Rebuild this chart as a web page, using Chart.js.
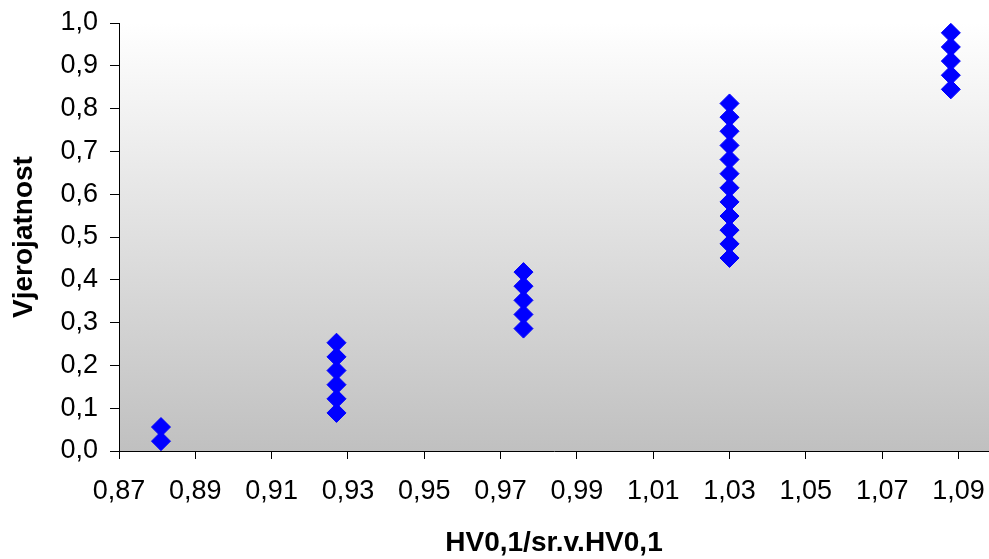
<!DOCTYPE html>
<html>
<head>
<meta charset="utf-8">
<script src="https://cdn.jsdelivr.net/npm/chart.js@4.4.1/dist/chart.umd.min.js"></script>
<style>
    html, body { margin: 0; padding: 0; background: #fff; }
    #wrap { width: 989px; height: 559px; }
</style>
</head>
<body>
<div id="wrap"><canvas id="chart" width="989" height="559"></canvas></div>
<script>
// HV0,1 / mean HV0,1 for each measurement (x) and its probability (y)
const hvRatio = [
    0.881, 0.881,
    0.927, 0.927, 0.927, 0.927, 0.927, 0.927,
    0.976, 0.976, 0.976, 0.976, 0.976,
    1.030, 1.030, 1.030, 1.030, 1.030, 1.030, 1.030, 1.030, 1.030, 1.030, 1.030, 1.030,
    1.088, 1.088, 1.088, 1.088, 1.088
];
const probability = [
    0.023, 0.056,
    0.089, 0.122, 0.155, 0.188, 0.220, 0.253,
    0.286, 0.319, 0.352, 0.385, 0.418,
    0.451, 0.484, 0.516, 0.549, 0.582, 0.615, 0.648, 0.681, 0.714, 0.747, 0.780, 0.812,
    0.845, 0.878, 0.911, 0.944, 0.977
];
const xTicks = [0.87, 0.89, 0.91, 0.93, 0.95, 0.97, 0.99, 1.01, 1.03, 1.05, 1.07, 1.09];
const yTicks = [0, 0.1, 0.2, 0.3, 0.4, 0.5, 0.6, 0.7, 0.8, 0.9, 1.0];

const FONT = "'Liberation Sans', Arial, sans-serif";

// grey-to-white fill behind the points
const plotBackground = {
    id: 'plotBackground',
    beforeDraw(chart) {
        const { ctx, chartArea: a } = chart;
        const g = ctx.createLinearGradient(0, a.top, 0, a.bottom);
        g.addColorStop(0, '#ffffff');
        g.addColorStop(1, '#c0c0c0');
        ctx.save();
        ctx.fillStyle = g;
        ctx.fillRect(a.left, a.top, a.right - a.left, a.bottom - a.top);
        ctx.restore();
    }
};

const points = hvRatio.map((x, i) => ({ x: x, y: probability[i] }));

new Chart(document.getElementById('chart'), {
    type: 'scatter',
    data: {
        datasets: [{
            data: points,
            pointStyle: 'rectRot',
            pointRadius: 9.5,
            pointBorderWidth: 1,
            backgroundColor: '#0000ff',
            borderColor: '#0000ff'
        }]
    },
    options: {
        responsive: false,
        animation: false,
        events: [],
        layout: { autoPadding: false, padding: { top: 23, right: 0, left: 0, bottom: 0 } },
        plugins: { legend: { display: false }, tooltip: { enabled: false } },
        scales: {
            x: {
                type: 'linear',
                min: 0.87,
                max: 1.098,
                afterBuildTicks: s => { s.ticks = xTicks.map(v => ({ value: v })); },
                afterFit: s => { s.height = 108; },
                grid: { drawOnChartArea: false, drawTicks: true, tickLength: 8, color: '#000' },
                border: { display: true, color: '#000', width: 1 },
                ticks: {
                    // lineHeight pushes the labels down below the tick marks
                    padding: 0,
                    color: '#000',
                    font: { family: FONT, size: 27, lineHeight: 2.44 },
                    callback: v => v.toFixed(2).replace('.', ',')
                },
                title: {
                    display: true,
                    text: 'HV0,1/sr.v.HV0,1',
                    color: '#000',
                    font: { family: FONT, size: 28, weight: 'bold', lineHeight: 1 },
                    padding: { top: 0, bottom: 2 }
                }
            },
            y: {
                min: 0,
                max: 1,
                afterBuildTicks: s => { s.ticks = yTicks.map(v => ({ value: v })); },
                afterFit: s => { s.width = 119; s.paddingTop = 0; s.paddingBottom = 0; },
                grid: { drawOnChartArea: false, drawTicks: true, tickLength: 9, color: '#000' },
                border: { display: true, color: '#000', width: 1 },
                ticks: {
                    padding: 12,
                    color: '#000',
                    font: { family: FONT, size: 27 },
                    callback: v => v.toFixed(1).replace('.', ',')
                },
                title: {
                    display: true,
                    text: 'Vjerojatnost',
                    color: '#000',
                    font: { family: FONT, size: 28, weight: 'bold', lineHeight: 1 },
                    padding: { top: 10, bottom: 0 }
                }
            }
        }
    },
    plugins: [plotBackground]
});
</script>
</body>
</html>
